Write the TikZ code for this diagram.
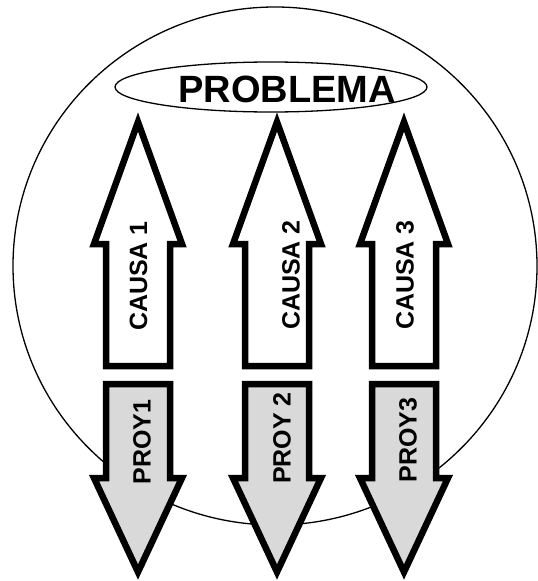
\documentclass[tikz,border=0pt]{standalone}
\usepackage{fontspec}
\setmainfont{Liberation Sans}
\begin{document}
\begin{tikzpicture}[x=1pt,y=-1pt,line join=miter,
  upbox/.style={draw=black,fill=white,line width=6.5pt},
  downbox/.style={draw=black,fill=black!15,line width=6.5pt},
  lbl/.style={font=\fontsize{25}{25}\selectfont\bfseries,rotate=90,inner sep=0pt},
  thin/.style={draw=black,line width=1.3pt}]
\useasboundingbox (0,0) rectangle (538,581);
% big circle
\draw[thin] (275,266) ellipse [x radius=262, y radius=259];
% problem ellipse
\draw[thin,fill=white] (271,87) ellipse [x radius=156, y radius=25];
\node[font=\fontsize{38}{38}\selectfont\bfseries,inner sep=0pt] (prob) at (287,89.5) {PROBLEMA};
% arrows
\foreach \cx in {138,277,404}{
  \draw[upbox] (\cx-32,366) -- (\cx-32,244) -- (\cx-44,244) -- (\cx,122) -- (\cx+44,244) -- (\cx+32,244) -- (\cx+32,366) -- cycle;
  \draw[downbox] (\cx-32,384) -- (\cx-32,478) -- (\cx-44,478) -- (\cx,572) -- (\cx+44,478) -- (\cx+32,478) -- (\cx+32,384) -- cycle;
}
\node[lbl] (c1) at (138.5,276) {CAUSA 1};
\node[lbl] (c2) at (291,275) {CAUSA 2};
\node[lbl] (c3) at (405,275) {CAUSA 3};
\node[lbl] (p1) at (142,442) {PROY1};
\node[lbl] (p2) at (282,438) {PROY 2};
\node[lbl] (p3) at (408,440) {PROY3};
\end{tikzpicture}
\end{document}
